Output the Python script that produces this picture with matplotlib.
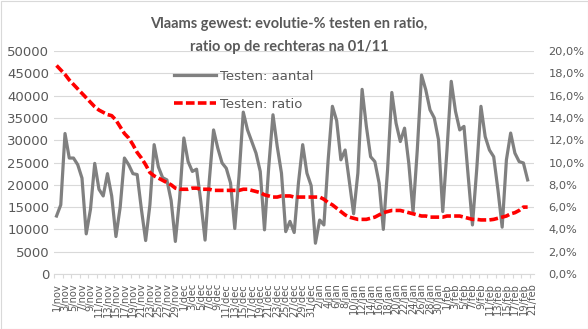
import matplotlib.pyplot as plt
import numpy as np
import pandas as pd

# dagen 1/nov -> 21/feb, labels om de 2 dagen
dagen = pd.date_range('2020-11-01', '2021-02-21')
maanden = {11: 'nov', 12: 'dec', 1: 'jan', 2: 'feb'}
labels = [f"{d.day}/{maanden[d.month]}" for d in dagen]

# Testen: aantal (linker as)
aantal = [13000, 15500, 31500, 26000, 26000, 24500, 21500, 9000, 14500, 24800,
          19000, 17500, 22500, 17500, 8400, 15000, 26000, 24500, 22500, 22300,
          14500, 7500, 15500, 29000, 24000, 21600, 21100, 16500, 7300, 17000,
          30500, 25200, 23000, 23500, 16200, 7600, 21000, 32300, 28200, 24900,
          23700, 20400, 10200, 22000, 36300, 32300, 29700, 27100, 23000, 9900,
          24000, 35700, 28600, 22600, 9500, 11800, 9300, 20400, 29000, 22600,
          19800, 6900, 12100, 11000, 25600, 37600, 34400, 25600, 27800, 20700,
          13500, 22600, 41400, 33100, 26300, 25200, 20400, 10000, 23400, 40700,
          33800, 29700, 32700, 24800, 13900, 27800, 44600, 41300, 36800, 35000,
          30100, 14000, 27800, 43200, 36500, 32300, 33100, 21900, 11000, 23400,
          37600, 30800, 27800, 26300, 18900, 10500, 25600, 31600, 27100, 25200,
          24900, 21100]

# Testen: ratio in % (rechter as)
ratio = [18.7, 18.3, 17.9, 17.4, 17.0, 16.6, 16.2, 15.8, 15.4, 15.0,
         14.7, 14.5, 14.3, 14.2, 13.8, 13.2, 12.6, 12.2, 11.6, 10.9,
         10.4, 9.8, 9.1, 8.8, 8.6, 8.4, 8.2, 8.0, 7.7, 7.6,
         7.6, 7.6, 7.7, 7.7, 7.6, 7.6, 7.6, 7.5, 7.5, 7.5,
         7.5, 7.5, 7.5, 7.5, 7.6, 7.6, 7.5, 7.4, 7.3, 7.1,
         7.0, 6.9, 6.9, 7.0, 7.0, 7.0, 6.9, 6.9, 6.9, 6.9,
         6.9, 6.9, 6.9, 6.7, 6.4, 6.2, 5.9, 5.6, 5.3, 5.1,
         5.0, 4.9, 4.9, 4.9, 5.0, 5.1, 5.3, 5.5, 5.6, 5.7,
         5.7, 5.7, 5.6, 5.5, 5.4, 5.3, 5.2, 5.2, 5.1, 5.1,
         5.1, 5.1, 5.2, 5.2, 5.2, 5.2, 5.1, 5.0, 4.9, 4.9,
         4.85, 4.85, 4.85, 4.9, 5.0, 5.1, 5.2, 5.4, 5.5, 5.7,
         6.0, 6.0]

tekst = '#595959'
grid = '#d9d9d9'

fig = plt.figure(figsize=(5.88, 3.29), dpi=100)
ax = fig.add_axes([54.4/588, 55/329, 479.6/588, 223/329])

x = np.arange(len(aantal))
l1, = ax.plot(x, aantal, color='#808080', lw=2.3, label='Testen: aantal')
ax.set_xlim(-0.5, len(labels) - 0.5)
ax.set_ylim(0, 50000)
ax.set_yticks(range(0, 50001, 5000))
ax.grid(axis='y', color=grid, lw=0.8)
ax.set_axisbelow(True)
for s in ['top', 'left', 'right']:
    ax.spines[s].set_visible(False)
ax.spines['bottom'].set_color(grid)
ax.spines['bottom'].set_linewidth(0.8)
ax.tick_params(axis='y', length=0, pad=3.6, labelcolor=tekst, labelsize=9.5)

ax.set_xticks(range(0, len(labels), 2))
ax.set_xticklabels(labels[::2], rotation=90, fontsize=7.1, color=tekst)
ax.tick_params(axis='x', which='major', length=0, pad=6.5)
ax.set_xticks(np.arange(-0.5, len(labels) - 1, 2), minor=True)
ax.tick_params(axis='x', which='minor', length=3, color=grid, width=0.8)

ax2 = ax.twinx()
l2, = ax2.plot(x, ratio, color='#ff0000', lw=2.6, dashes=(2.4, 0.9),
               label='Testen: ratio')
ax2.set_ylim(0, 20)
ax2.set_yticks(range(0, 21, 2))
ax2.set_yticklabels([f"{v:.1f}%".replace('.', ',') for v in range(0, 21, 2)])
for s in ax2.spines.values():
    s.set_visible(False)
ax2.tick_params(axis='y', length=0, pad=10.5, labelcolor=tekst, labelsize=8.2)

fig.legend([l1, l2], ['Testen: aantal', 'Testen: ratio'], loc='upper left',
           bbox_to_anchor=(174/588, 1 - 70/329), frameon=False, fontsize=9.5,
           labelcolor=tekst, handlelength=3.2, handletextpad=0.3,
           labelspacing=1.1, borderpad=0, borderaxespad=0)

fig.text(289/588, 1 - 24/329, 'Vlaams gewest: evolutie-% testen en ratio,',
         ha='center', va='center', fontsize=10.5, fontweight='bold',
         family='Lato', color=tekst)
fig.text(289/588, 1 - 47/329, 'ratio op de rechteras na 01/11',
         ha='center', va='center', fontsize=10.5, fontweight='bold',
         family='Lato', color=tekst)

fig.add_artist(plt.Rectangle((0.5/588, 0.5/329), 587/588, 328/329,
                             transform=fig.transFigure, fill=False,
                             ec=grid, lw=0.8))

fig.savefig('out.png', dpi=100)
